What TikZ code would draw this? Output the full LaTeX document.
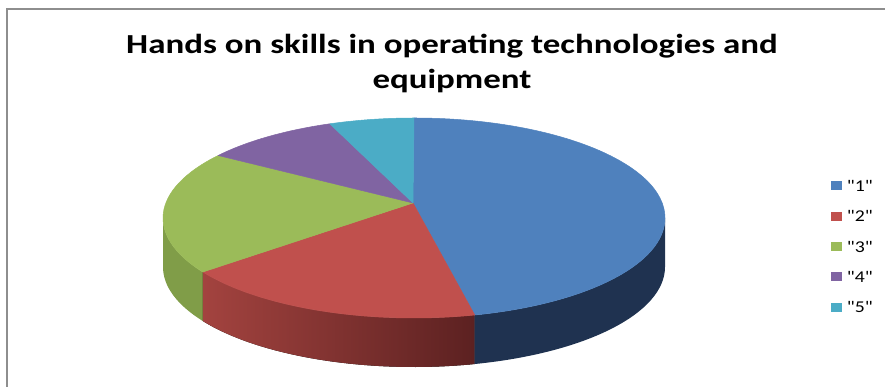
\documentclass[tikz,border=0pt]{standalone}
\usepackage{fontspec}
\setmainfont{Carlito}
\usetikzlibrary{positioning}
\definecolor{s1}{HTML}{4F81BD}
\definecolor{s2}{HTML}{C0504D}
\definecolor{s3}{HTML}{9BBB59}
\definecolor{s4}{HTML}{8064A2}
\definecolor{s5}{HTML}{4BACC6}
\definecolor{s1side}{HTML}{1F3250}
\definecolor{s2sideL}{HTML}{A3433F}
\definecolor{s2sideR}{HTML}{5C2121}
\definecolor{s3side}{HTML}{809D48}
\definecolor{frame}{HTML}{8E8E8E}
\newcommand{\qt}[1]{\textquotedbl#1\textquotedbl}

\begin{document}
\begin{tikzpicture}[x=1pt,y=1pt,on grid,node distance=30.3pt,
  rad/.style={x radius=251,y radius=100},
  slice/.style={fill=#1,draw=#1,line width=0.5pt,line join=round},
  key/.style={rectangle,minimum width=11pt,minimum height=9pt,inner sep=0pt},
  keylabel/.style={anchor=west,inner sep=0pt,transform shape,xscale=1.2,font=\fontsize{16.5}{18}\selectfont}]
\useasboundingbox (0,0) rectangle (885,387);
\draw[line width=2pt,frame] (7,0) -- (7,378) -- (885,378);

\node[transform shape,xscale=1.27,font=\bfseries\fontsize{27.5}{35}\selectfont,align=center] (title) at (452,323)
  {Hands on skills in operating technologies and\\equipment};

\coordinate (c) at (414,169);
\coordinate (apex) at (413,184);

% side walls
\fill[s3side] ([shift={(c)}]180:251 and 100) arc[rad,start angle=180,end angle=212.7]
  -- ++(0,-49) arc[rad,start angle=212.7,end angle=180] -- cycle;
\fill[left color=s2sideL,right color=s2sideR] ([shift={(c)}]212.7:251 and 100) arc[rad,start angle=212.7,end angle=284]
  -- ++(0,-49) arc[rad,start angle=284,end angle=212.7] -- cycle;
\fill[s1side] ([shift={(c)}]284:251 and 100) arc[rad,start angle=284,end angle=360]
  -- ++(0,-49) arc[rad,start angle=360,end angle=284] -- cycle;

% top of the pie
\path[slice=s1] (apex) -- ([shift={(c)}]90:251 and 100) arc[rad,start angle=90,end angle=-76] -- cycle;
\path[slice=s2] (apex) -- ([shift={(c)}]-76:251 and 100) arc[rad,start angle=-76,end angle=-147.3] -- cycle;
\path[slice=s3] (apex) -- ([shift={(c)}]-147.3:251 and 100) arc[rad,start angle=-147.3,end angle=-218.7] -- cycle;
\path[slice=s4] (apex) -- ([shift={(c)}]-218.7:251 and 100) arc[rad,start angle=-218.7,end angle=-250.4] -- cycle;
\path[slice=s5] (apex) -- ([shift={(c)}]-250.4:251 and 100) arc[rad,start angle=-250.4,end angle=-270] -- cycle;

% legend
\node[key,fill=s1] (k_1) at (836,201) {};
\node[key,fill=s2] (k_2) [below=of k_1] {};
\node[key,fill=s3] (k_3) [below=of k_2] {};
\node[key,fill=s4] (k_4) [below=of k_3] {};
\node[key,fill=s5] (k_5) [below=of k_4] {};
\node[keylabel] (l_1) at ([xshift=5pt]k_1.east) {\qt{1}};
\node[keylabel] (l_2) at ([xshift=5pt]k_2.east) {\qt{2}};
\node[keylabel] (l_3) at ([xshift=5pt]k_3.east) {\qt{3}};
\node[keylabel] (l_4) at ([xshift=5pt]k_4.east) {\qt{4}};
\node[keylabel] (l_5) at ([xshift=5pt]k_5.east) {\qt{5}};
\end{tikzpicture}
\end{document}
